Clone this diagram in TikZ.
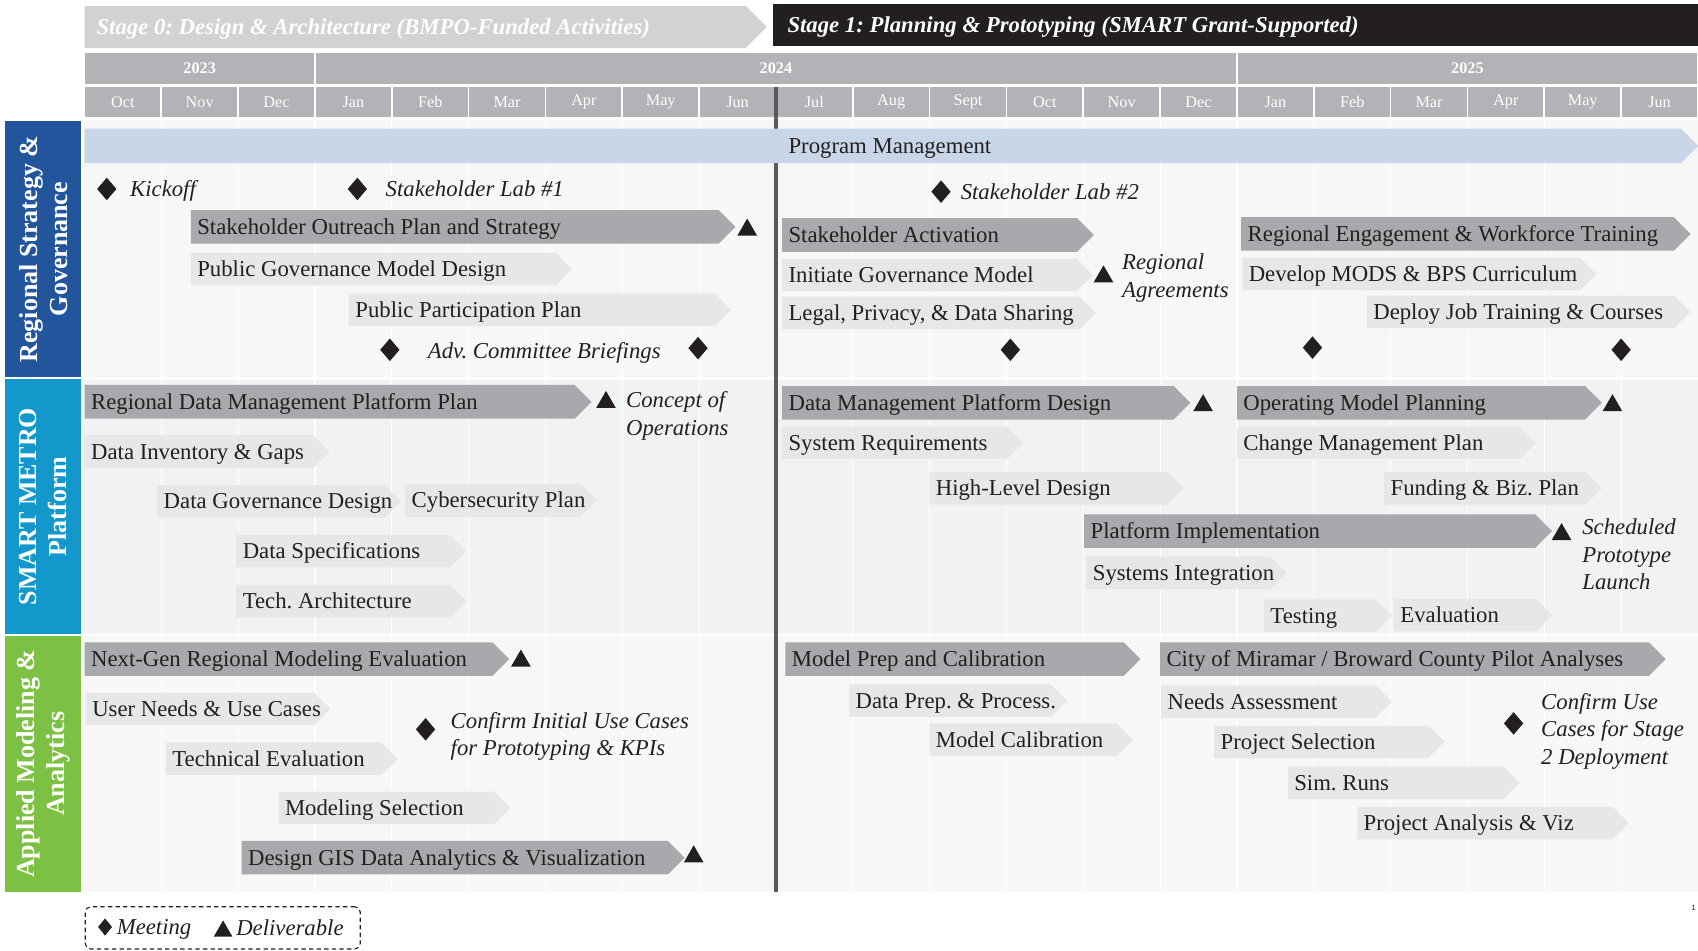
\documentclass[tikz,border=0pt]{standalone}
\usepackage{fontspec}
\setmainfont{Liberation Serif}
\setsansfont{Liberation Sans}
\usetikzlibrary{positioning,shapes.symbols,shapes.geometric}
\frenchspacing

\definecolor{stagezerogray}{HTML}{D1D2D4}
\definecolor{stageoneblack}{HTML}{231F20}
\definecolor{headgray}{HTML}{B1B3B6}
\definecolor{lanebg}{HTML}{F7F7F7}
\definecolor{lanebgblue}{HTML}{F1F2F4}
\definecolor{laneblue}{HTML}{22559B}
\definecolor{lanecyan}{HTML}{1498CC}
\definecolor{lanegreen}{HTML}{7CC143}
\definecolor{pmblue}{HTML}{C8D6E7}
\definecolor{bardark}{HTML}{A7A9AC}
\definecolor{barlight}{HTML}{E6E7E8}
\definecolor{divgray}{HTML}{58595B}
\definecolor{inkblack}{HTML}{231F20}

\tikzset{
  stagebanner/.style={signal, signal to=east, fill=stagezerogray, inner sep=0pt, anchor=west, minimum height=39pt},
  stagetext/.style={anchor=west, inner sep=0pt, text height=14pt, text depth=0pt, text=white, font=\fontsize{21}{25}\selectfont\bfseries\itshape},
  yearcell/.style={rectangle, fill=headgray, draw=white, line width=1.5pt, minimum height=30pt, text=white, font=\fontsize{15}{18}\selectfont\bfseries},
  monthcell/.style={rectangle, fill=headgray, draw=white, line width=1.5pt, minimum width=70.95pt, minimum height=29pt, text=white, font=\fontsize{15}{18}\selectfont},
  lanelabel/.style={rectangle, rotate=90, minimum height=70pt, inner sep=0pt, align=center, text=white, font=\fontsize{24}{28}\selectfont\bfseries},
  darkbar/.style={signal, signal to=east, fill=bardark, inner sep=0pt, anchor=west, minimum height=31pt},
  lightbar/.style={signal, signal to=east, fill=barlight, inner sep=0pt, anchor=west, minimum height=30pt},
  bartext/.style={anchor=west, inner sep=0pt, text height=14pt, text depth=0pt, text=inkblack, font=\fontsize{21}{25}\selectfont},
  notetext/.style={anchor=west, inner sep=0pt, text height=14pt, text depth=0pt, text=inkblack, font=\fontsize{21}{25}\selectfont\itshape},
  notelines/.style={anchor=north west, inner sep=0pt, align=left, text=inkblack, font=\fontsize{21}{25.5}\selectfont\itshape},
  meeting/.style={diamond, fill=inkblack, inner sep=0pt, minimum width=18pt, minimum height=21pt},
  deliverable/.style={regular polygon, regular polygon sides=3, fill=inkblack, inner sep=0pt, minimum size=21pt},
  gridline/.style={white, line width=1pt},
}

\begin{document}
\begin{tikzpicture}[x=1pt,y=-1pt]
\useasboundingbox (0,0) rectangle (1568,878);
\fill[white] (0,0) rectangle (1568,878);

% stage banners
\node[stagebanner, minimum width=630pt] (stagezero) at (78,25) {};
\node[stagetext, right=11pt of stagezero.west] (stagezerolabel) {Stage 0: Design \& Architecture (BMPO-Funded Activities)};
\node[rectangle, fill=stageoneblack, inner sep=0pt, anchor=west, minimum width=854pt, minimum height=38.5pt] (stageone) at (714,23) {};
\node[stagetext, right=13pt of stageone.west] (stageonelabel) {Stage 1: Planning \& Prototyping (SMART Grant-Supported)};

% years
\node[yearcell, minimum width=212.85pt] (y2023) at (184.43,63.3) {2023};
\node[yearcell, minimum width=851.4pt] (y2024) at (716.55,63.3) {2024};
\node[yearcell, minimum width=425.7pt] (y2025) at (1355.1,63.3) {2025};

% months
\node[monthcell] (m1) at (113.48,94.5) {Oct};
\node[monthcell] (m2) at (184.43,94.5) {Nov};
\node[monthcell] (m3) at (255.38,94.5) {Dec};
\node[monthcell] (m4) at (326.33,94.5) {Jan};
\node[monthcell] (m5) at (397.28,94.5) {Feb};
\node[monthcell] (m6) at (468.23,94.5) {Mar};
\node[monthcell] (m7) at (539.18,94.5) {Apr};
\node[monthcell] (m8) at (610.13,94.5) {May};
\node[monthcell] (m9) at (681.08,94.5) {Jun};
\node[monthcell] (m10) at (752.03,94.5) {Jul};
\node[monthcell] (m11) at (822.98,94.5) {Aug};
\node[monthcell] (m12) at (893.93,94.5) {Sept};
\node[monthcell] (m13) at (964.88,94.5) {Oct};
\node[monthcell] (m14) at (1035.83,94.5) {Nov};
\node[monthcell] (m15) at (1106.78,94.5) {Dec};
\node[monthcell] (m16) at (1177.73,94.5) {Jan};
\node[monthcell] (m17) at (1248.68,94.5) {Feb};
\node[monthcell] (m18) at (1319.63,94.5) {Mar};
\node[monthcell] (m19) at (1390.58,94.5) {Apr};
\node[monthcell] (m20) at (1461.53,94.5) {May};
\node[monthcell] (m21) at (1532.48,94.5) {Jun};

% lanes
\fill[lanebg] (78,111) rectangle (1568,348.5);
\fill[lanebgblue] (78,350.5) rectangle (1568,585.5);
\fill[lanebg] (78,587.5) rectangle (1568,823.5);
\draw[gridline] (148.95,111) -- (148.95,823.5) (219.9,111) -- (219.9,823.5) (290.85,111) -- (290.85,823.5)
  (361.8,111) -- (361.8,823.5) (432.75,111) -- (432.75,823.5) (503.7,111) -- (503.7,823.5)
  (574.65,111) -- (574.65,823.5) (645.6,111) -- (645.6,823.5) (787.5,111) -- (787.5,823.5)
  (858.45,111) -- (858.45,823.5) (929.4,111) -- (929.4,823.5) (1000.35,111) -- (1000.35,823.5)
  (1071.3,111) -- (1071.3,823.5) (1142.25,111) -- (1142.25,823.5) (1213.2,111) -- (1213.2,823.5)
  (1284.15,111) -- (1284.15,823.5) (1355.1,111) -- (1355.1,823.5) (1426.05,111) -- (1426.05,823.5)
  (1497,111) -- (1497,823.5);

\node[lanelabel, fill=laneblue, minimum width=236pt] (govlane) at (40,230) {Regional Strategy \&\\Governance};
\node[lanelabel, fill=lanecyan, minimum width=235pt] (platformlane) at (40,467.8) {SMART METRO\\Platform};
\node[lanelabel, fill=lanegreen, minimum width=236pt] (modellane) at (40,705.3) {Applied Modeling \&\\Analytics};

% stage divide
\draw[divgray, line width=3pt] (716.55,80) -- (716.55,823.5);

\node[signal, signal to=east, fill=pmblue, inner sep=0pt, anchor=west, minimum height=32pt, minimum width=1490pt] (progmgmt) at (78,134.7) {};
\node[bartext, right=650pt of progmgmt.west] (progmgmtlabel) {Program Management};

% regional strategy & governance
\node[darkbar, minimum width=503pt] (outreach) at (176,209.5) {};
\node[bartext, right=6pt of outreach.west] (outreachlabel) {Stakeholder Outreach Plan and Strategy};
\node[lightbar, minimum width=352pt] (govdesign) at (176,248.5) {};
\node[bartext, right=6pt of govdesign.west] (govdesignlabel) {Public Governance Model Design};
\node[lightbar, minimum width=353pt] (participation) at (322,286) {};
\node[bartext, right=6pt of participation.west] (participationlabel) {Public Participation Plan};
\node[darkbar, minimum width=288pt] (activation) at (722,217) {};
\node[bartext, right=6pt of activation.west] (activationlabel) {Stakeholder Activation};
\node[lightbar, minimum width=287pt] (initgov) at (722,254) {};
\node[bartext, right=6pt of initgov.west] (initgovlabel) {Initiate Governance Model};
\node[lightbar, minimum width=290pt] (legal) at (722,289) {};
\node[bartext, right=6pt of legal.west] (legallabel) {Legal, Privacy, \& Data Sharing};
\node[darkbar, minimum width=415pt] (engagement) at (1146,216) {};
\node[bartext, right=6pt of engagement.west] (engagementlabel) {Regional Engagement \& Workforce Training};
\node[lightbar, minimum width=327pt] (curriculum) at (1147,253) {};
\node[bartext, right=6pt of curriculum.west] (curriculumlabel) {Develop MODS \& BPS Curriculum};
\node[lightbar, minimum width=299pt] (jobtraining) at (1262,288) {};
\node[bartext, right=6pt of jobtraining.west] (jobtraininglabel) {Deploy Job Training \& Courses};

\node[meeting] (kickoff) at (98.6,174.5) {};
\node[notetext] (kickofflabel) at (120,174.5) {Kickoff};
\node[meeting] (labone) at (330,174.5) {};
\node[notetext] (labonelabel) at (356,174.5) {Stakeholder Lab \#1};
\node[meeting] (briefone) at (360,323) {};
\node[notetext] (brieflabel) at (395,324.5) {Adv. Committee Briefings};
\node[meeting] (brieftwo) at (644.6,321.5) {};
\node[meeting] (labtwo) at (869,177) {};
\node[notetext] (labtwolabel) at (887,177) {Stakeholder Lab \#2};
\node[meeting] (govmeet) at (933,323) {};
\node[meeting] (engmeetone) at (1212,321) {};
\node[meeting] (engmeettwo) at (1497,323) {};
\node[deliverable] (outreachdel) at (690,212.3) {};
\node[deliverable] (agreementsdel) at (1019,255.5) {};
\node[notelines] (agreementslabel) at (1036,234.3) {Regional\\Agreements};

% smart metro platform
\node[darkbar, minimum width=468pt] (dmpplan) at (78,371) {};
\node[bartext, right=6pt of dmpplan.west] (dmpplanlabel) {Regional Data Management Platform Plan};
\node[lightbar, minimum width=226pt] (inventory) at (78,417) {};
\node[bartext, right=6pt of inventory.west] (inventorylabel) {Data Inventory \& Gaps};
\node[lightbar, minimum width=225pt] (datagov) at (145,463) {};
\node[bartext, right=6pt of datagov.west] (datagovlabel) {Data Governance Design};
\node[lightbar, minimum width=177pt] (cyber) at (374,462) {};
\node[bartext, right=6pt of cyber.west] (cyberlabel) {Cybersecurity Plan};
\node[lightbar, minimum width=212pt] (dataspec) at (218,509) {};
\node[bartext, right=6pt of dataspec.west] (dataspeclabel) {Data Specifications};
\node[lightbar, minimum width=212pt] (techarch) at (218,555) {};
\node[bartext, right=6pt of techarch.west] (techarchlabel) {Tech. Architecture};
\node[darkbar, minimum width=377pt] (dmpdesign) at (722,372) {};
\node[bartext, right=6pt of dmpdesign.west] (dmpdesignlabel) {Data Management Platform Design};
\node[lightbar, minimum width=223pt] (sysreq) at (722,409) {};
\node[bartext, right=6pt of sysreq.west] (sysreqlabel) {System Requirements};
\node[lightbar, minimum width=235pt] (hldesign) at (858,451) {};
\node[bartext, right=6pt of hldesign.west] (hldesignlabel) {High-Level Design};
\node[darkbar, minimum width=337pt] (opmodel) at (1142,372) {};
\node[bartext, right=6pt of opmodel.west] (opmodellabel) {Operating Model Planning};
\node[lightbar, minimum width=276pt] (changemgmt) at (1142,409) {};
\node[bartext, right=6pt of changemgmt.west] (changemgmtlabel) {Change Management Plan};
\node[lightbar, minimum width=201pt] (funding) at (1278,451) {};
\node[bartext, right=6pt of funding.west] (fundinglabel) {Funding \& Biz. Plan};
\node[darkbar, minimum width=432pt] (implementation) at (1001,490.5) {};
\node[bartext, right=6pt of implementation.west] (implementationlabel) {Platform Implementation};
\node[lightbar, minimum width=185pt] (integration) at (1003,529) {};
\node[bartext, right=6pt of integration.west] (integrationlabel) {Systems Integration};
\node[lightbar, minimum width=118pt] (testing) at (1167,568.5) {};
\node[bartext, right=6pt of testing.west] (testinglabel) {Testing};
\node[lightbar, minimum width=146pt] (evaluation) at (1287,568) {};
\node[bartext, right=6pt of evaluation.west] (evaluationlabel) {Evaluation};

\node[deliverable] (conopsdel) at (559.6,371.5) {};
\node[notelines] (conopslabel) at (578,361.3) {Concept of\\Operations};
\node[deliverable] (dmpdel) at (1111,374.5) {};
\node[deliverable] (opmodeldel) at (1489,374.5) {};
\node[deliverable] (launchdel) at (1442,493.5) {};
\node[notelines] (launchlabel) at (1461,478.7) {Scheduled\\Prototype\\Launch};

% applied modeling & analytics
\node[darkbar, minimum width=392pt] (nextgen) at (78,608.7) {};
\node[bartext, right=6pt of nextgen.west] (nextgenlabel) {Next-Gen Regional Modeling Evaluation};
\node[lightbar, minimum width=226pt] (userneeds) at (79,654.5) {};
\node[bartext, right=6pt of userneeds.west] (userneedslabel) {User Needs \& Use Cases};
\node[lightbar, minimum width=214pt] (techeval) at (153,700.6) {};
\node[bartext, right=6pt of techeval.west] (techevallabel) {Technical Evaluation};
\node[lightbar, minimum width=214pt] (modelsel) at (257,746) {};
\node[bartext, right=6pt of modelsel.west] (modelsellabel) {Modeling Selection};
\node[darkbar, minimum width=409pt] (gisdesign) at (223,792) {};
\node[bartext, right=6pt of gisdesign.west] (gisdesignlabel) {Design GIS Data Analytics \& Visualization};
\node[darkbar, minimum width=328pt] (modelprep) at (725,608.7) {};
\node[bartext, right=6pt of modelprep.west] (modelpreplabel) {Model Prep and Calibration};
\node[lightbar, minimum width=201pt] (dataprep) at (784,647) {};
\node[bartext, right=6pt of dataprep.west] (datapreplabel) {Data Prep. \& Process.};
\node[lightbar, minimum width=188pt] (modelcal) at (858,683) {};
\node[bartext, right=6pt of modelcal.west] (modelcallabel) {Model Calibration};
\node[darkbar, minimum width=467pt] (pilot) at (1071,608.7) {};
\node[bartext, right=6pt of pilot.west] (pilotlabel) {City of Miramar / Broward County Pilot Analyses};
\node[lightbar, minimum width=213pt] (needs) at (1072,648) {};
\node[bartext, right=6pt of needs.west] (needslabel) {Needs Assessment};
\node[lightbar, minimum width=213pt] (projsel) at (1121,685) {};
\node[bartext, right=6pt of projsel.west] (projsellabel) {Project Selection};
\node[lightbar, minimum width=214pt] (simruns) at (1189,723) {};
\node[bartext, right=6pt of simruns.west] (simrunslabel) {Sim. Runs};
\node[lightbar, minimum width=251pt] (projanalysis) at (1253,760) {};
\node[bartext, right=6pt of projanalysis.west] (projanalysislabel) {Project Analysis \& Viz};

\node[deliverable] (nextgendel) at (481,610.3) {};
\node[deliverable] (gisdel) at (640.6,791.1) {};
\node[meeting] (confirmone) at (393,673.5) {};
\node[notelines] (confirmonelabel) at (416,657.5) {Confirm Initial Use Cases\\for Prototyping \& KPIs};
\node[meeting] (confirmtwo) at (1397.7,668) {};
\node[notelines] (confirmtwolabel) at (1423,640) {Confirm Use\\Cases for Stage\\2 Deployment};

% legend
\node[draw=inkblack, dash pattern=on 4pt off 3pt, rounded corners=5pt, line width=1pt, minimum width=254pt, minimum height=39pt] (legend) at (205.7,856.8) {};
\node[meeting, minimum width=13pt, minimum height=16pt] (legmeet) at (97,856) {};
\node[notetext, right=4pt of legmeet] (legmeetlabel) {Meeting};
\node[deliverable, minimum size=20pt] (legdeliv) at (206,860) {};
\node[notetext] (legdelivlabel) at (218,857) {Deliverable};

\node[inner sep=0pt, text=inkblack, font=\sffamily\fontsize{7}{8}\selectfont] (pagenum) at (1564,838.5) {1};

\end{tikzpicture}
\end{document}
